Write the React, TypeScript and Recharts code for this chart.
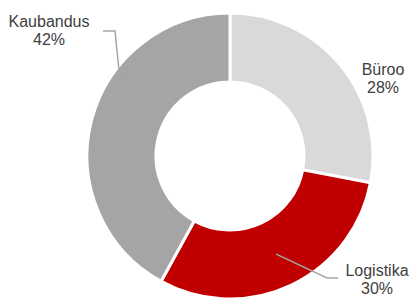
import { PieChart, Pie, Cell } from "recharts";

const categories = ["Büroo", "Logistika", "Kaubandus"];
const shares = [28, 30, 42];
const colors = ["#d9d9d9", "#c00000", "#a5a5a5"];

const data = categories.map((name, i) => ({ name, value: shares[i] }));

// label placement (text centre + leader line bends), Excel-style
const labelLayout: Record<string, { x: number; y: number; bend?: [number, number]; end?: [number, number] }> = {
  Kaubandus: { x: 49, y: 27, bend: [115, 31], end: [103, 31] },
  Büroo: { x: 383, y: 75 },
  Logistika: { x: 377, y: 276, bend: [327, 278], end: [338, 278] },
};

const RADIAN = Math.PI / 180;

const renderLabel = (props: any) => {
  const { cx, cy, midAngle, innerRadius, outerRadius, name, value } = props;
  const layout = labelLayout[name];
  if (!layout) return null;
  const r = (innerRadius + outerRadius) / 2;
  const ax = cx + r * Math.cos(-midAngle * RADIAN);
  const ay = cy + r * Math.sin(-midAngle * RADIAN);
  return (
    <g>
      {layout.bend && layout.end && (
        <polyline
          points={`${ax},${ay} ${layout.bend[0]},${layout.bend[1]} ${layout.end[0]},${layout.end[1]}`}
          fill="none"
          stroke="#a6a6a6"
          strokeWidth={1.5}
        />
      )}
      <text x={layout.x} y={layout.y} textAnchor="middle" fill="#404040" fontSize={16} fontFamily="Liberation Sans, Arial, sans-serif">
        <tspan x={layout.x}>{name}</tspan>
        <tspan x={layout.x} dy={18}>{value}%</tspan>
      </text>
    </g>
  );
};

export default function App() {
  return (
    <div style={{ position: "absolute", left: 0, top: 0, width: 410, height: 298, background: "#fff" }}>
      <PieChart width={410} height={298} margin={{ top: 0, right: 0, bottom: 0, left: 0 }}>
        <Pie
          data={data}
          dataKey="value"
          cx={230}
          cy={156}
          innerRadius={74}
          outerRadius={143}
          startAngle={90}
          endAngle={-270}
          stroke="#ffffff"
          strokeWidth={3}
          label={renderLabel}
          labelLine={false}
          isAnimationActive={false}
        >
          {data.map((d, i) => (
            <Cell key={d.name} fill={colors[i]} />
          ))}
        </Pie>
      </PieChart>
    </div>
  );
}
